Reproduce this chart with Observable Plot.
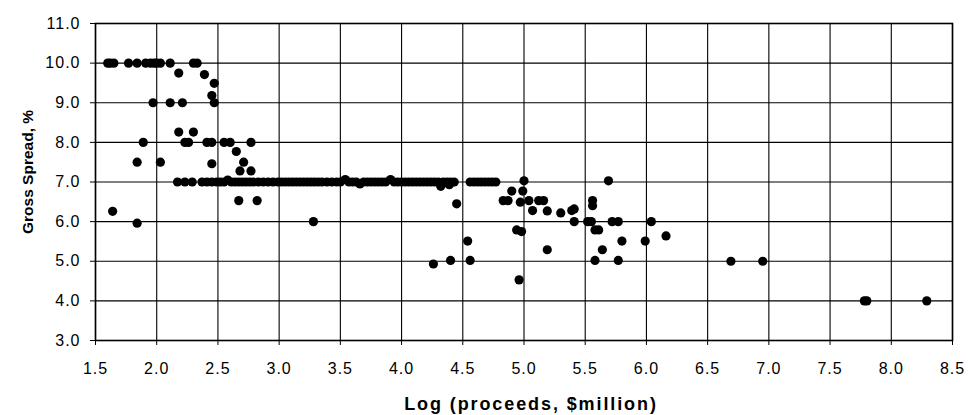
<!DOCTYPE html>
<html>
<head>
<meta charset="utf-8">
<script src="https://cdn.jsdelivr.net/npm/d3@7"></script>
<script src="https://cdn.jsdelivr.net/npm/@observablehq/plot@0.6"></script>
<style>
  html, body { margin: 0; padding: 0; background: #fff; }
  #chart svg { display: block; }
</style>
</head>
<body>
<div id="chart"></div>
<script>
// Log(proceeds, $million) and gross spread (%) for each offering
const logProceeds = [
  // 10% cluster
  1.60, 1.62, 1.65, 1.77, 1.84, 1.91, 1.95, 1.98, 2.00, 2.03, 2.11, 2.30, 2.33,
  2.18, 2.39, 2.47, 2.45, 2.47,
  1.97, 2.11, 2.21,
  2.18, 2.30,
  1.89, 2.23, 2.26, 2.41, 2.45, 2.55, 2.60, 2.77,
  2.65,
  1.84, 2.03, 2.45, 2.71,
  2.68, 2.77,
  1.64, 1.84,
  2.67, 2.82,
  3.28,
  // 7% band
  2.17, 2.23, 2.29, 2.37, 2.41, 2.45, 2.49, 2.52, 2.55, 2.58, 2.61, 2.64, 2.67, 2.70,
  2.73, 2.76, 2.79, 2.83, 2.87, 2.91, 2.95, 2.99, 3.02, 3.05, 3.08, 3.11, 3.14, 3.17,
  3.20, 3.23, 3.26, 3.29, 3.32, 3.35, 3.39, 3.43, 3.47, 3.50, 3.54, 3.57, 3.60, 3.63,
  3.66, 3.69, 3.72, 3.75, 3.78, 3.81, 3.84, 3.87, 3.91, 3.94, 3.97, 4.00, 4.03, 4.06,
  4.09, 4.12, 4.15, 4.18, 4.21, 4.24, 4.27, 4.30, 4.32, 4.34, 4.37, 4.39, 4.40, 4.43,
  4.56, 4.59, 4.62, 4.65, 4.68, 4.71, 4.74, 4.77,
  // mid / large offerings
  4.45, 4.54, 4.26, 4.40, 4.56, 4.96, 4.94, 4.98,
  5.00, 4.90, 4.99,
  4.83, 4.87, 4.97, 5.04, 5.12, 5.16,
  5.07, 5.19, 5.30, 5.39, 5.41,
  5.19,
  5.56, 5.56, 5.69,
  5.41, 5.52, 5.55, 5.72, 5.77, 6.04,
  5.58, 5.61,
  5.80, 5.99, 6.16,
  5.64, 5.58, 5.77,
  6.69, 6.95,
  7.78, 7.80, 8.29
];
const grossSpread = [
  10, 10, 10, 10, 10, 10, 10, 10, 10, 10, 10, 10, 10,
  9.75, 9.71, 9.49, 9.18, 9.0,
  9.0, 9.0, 9.0,
  8.26, 8.26,
  8.0, 8.0, 8.0, 8.0, 8.0, 8.0, 8.0, 8.0,
  7.77,
  7.5, 7.5, 7.46, 7.5,
  7.28, 7.28,
  6.26, 5.96,
  6.53, 6.53,
  6.0,
  7.0, 7.0, 7.0, 7.0, 7.0, 7.0, 7.0, 7.0, 7.0, 7.05, 7.0, 7.0, 7.0, 7.0,
  7.0, 7.0, 7.0, 7.0, 7.0, 7.0, 7.0, 7.0, 7.0, 7.0, 7.0, 7.0, 7.0, 7.0,
  7.0, 7.0, 7.0, 7.0, 7.0, 7.0, 7.0, 7.0, 7.0, 7.0, 7.06, 7.0, 7.0, 7.0,
  6.95, 7.0, 7.0, 7.0, 7.0, 7.0, 7.0, 7.0, 7.06, 7.0, 7.0, 7.0, 7.0, 7.0,
  7.0, 7.0, 7.0, 7.0, 7.0, 7.0, 7.0, 7.0, 6.89, 7.0, 7.0, 6.93, 7.0, 7.0,
  7.0, 7.0, 7.0, 7.0, 7.0, 7.0, 7.0, 7.0,
  6.45, 5.51, 4.93, 5.02, 5.02, 4.53, 5.79, 5.75,
  7.03, 6.77, 6.77,
  6.53, 6.53, 6.49, 6.53, 6.53, 6.53,
  6.28, 6.27, 6.22, 6.28, 6.32,
  5.29,
  6.53, 6.40, 7.03,
  6.0, 6.0, 6.0, 6.0, 6.0, 6.0,
  5.79, 5.79,
  5.51, 5.51, 5.64,
  5.29, 5.02, 5.02,
  5.0, 5.0,
  4.0, 4.0, 4.0
];
const xTicks = [1.5, 2.0, 2.5, 3.0, 3.5, 4.0, 4.5, 5.0, 5.5, 6.0, 6.5, 7.0, 7.5, 8.0, 8.5];
const yTicks = [3, 4, 5, 6, 7, 8, 9, 10, 11];
const xTitle = "Log (proceeds, $million)";
const yTitle = "Gross Spread, %";

const points = logProceeds.map((x, i) => ({x, y: grossSpread[i]}));

const chart = Plot.plot({
  width: 968,
  height: 415,
  marginLeft: 95,
  marginRight: 16,
  marginTop: 23,
  marginBottom: 75,
  style: "font-family: 'Liberation Sans', Arial, sans-serif; background: #fff; color: #000;",
  x: {domain: [1.5, 8.5]},
  y: {domain: [3, 11]},
  marks: [
    Plot.gridX(xTicks, {stroke: "#000", strokeOpacity: 1, strokeWidth: 1.1}),
    Plot.gridY(yTicks, {stroke: "#000", strokeOpacity: 1, strokeWidth: 1.1}),
    Plot.frame({stroke: "#000", strokeWidth: 1.6}),
    Plot.axisX(xTicks, {tickSize: 5, tickPadding: 17, fontSize: 16, tickFormat: d => d.toFixed(1), label: null, stroke: "#000"}),
    Plot.axisY(yTicks, {tickSize: 5, tickPadding: 10, fontSize: 16, tickFormat: d => d.toFixed(1), label: null, stroke: "#000"}),
    Plot.dot(points, {x: "x", y: "y", r: 4.6, fill: "#000", stroke: "none"}),
    Plot.text([xTitle], {frameAnchor: "bottom", textAnchor: "middle", lineAnchor: "middle", dy: 64, dx: 7, fontSize: 18, fontWeight: "bold", fill: "#000", text: d => d}),
    Plot.text([yTitle], {frameAnchor: "left", textAnchor: "middle", lineAnchor: "middle", rotate: -90, dx: -67, dy: -10, fontSize: 15.5, fontWeight: "bold", fill: "#000", text: d => d})
  ]
});

const svg = d3.select(chart);
svg.selectAll('g[aria-label="x-axis tick label"] text, g[aria-label="y-axis tick label"] text').style("letter-spacing", "1px");
svg.selectAll('g[aria-label="text"] text').filter(function() { return this.textContent === xTitle; }).style("letter-spacing", "1.9px");

document.getElementById("chart").appendChild(chart);
</script>
</body>
</html>
